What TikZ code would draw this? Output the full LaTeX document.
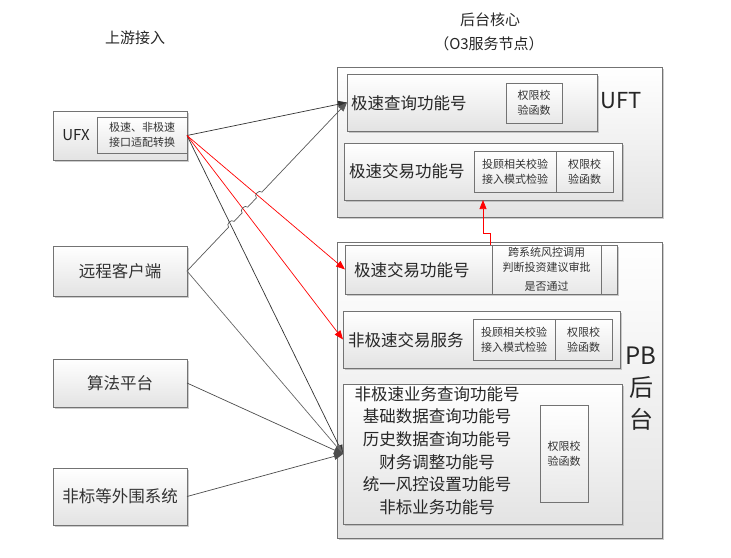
\documentclass[tikz,border=0pt]{standalone}
\usepackage{fontspec}
\setmainfont{Noto Sans CJK SC}
\usetikzlibrary{arrows.meta,shadows,calc}
\begin{document}
\begin{tikzpicture}[x=1pt,y=-1pt,
  box/.style={draw=black!55, line width=0.9pt, top color=white, bottom color=black!11,
    drop shadow={shadow xshift=1.5pt,shadow yshift=-1.5pt,fill=black!40,opacity=0.5},
    inner sep=0pt, outer sep=0pt, anchor=north west, text=black!80},
  ibox/.style={draw=black!55, line width=0.8pt, top color=white, bottom color=black!9,
    drop shadow={shadow xshift=1pt,shadow yshift=-1pt,fill=black!40,opacity=0.4},
    inner sep=0pt, outer sep=0pt, anchor=north west, align=center, text=black!80,
    font=\fontsize{11}{15}\selectfont},
  bigtxt/.style={font=\fontsize{16.5}{20}\selectfont},
  lbl/.style={inner sep=0pt, text=black!85},
  conn/.style={draw=black!80, line width=0.7pt, -{Triangle[length=9pt,width=7pt]}},
  redc/.style={draw=red, line width=0.7pt, -{Triangle[length=9pt,width=7pt]}, red},
]
\useasboundingbox (0,0) rectangle (731,557);

% headers
\node[lbl, font=\fontsize{15}{18}\selectfont] (h1) at (135,38) {上游接入};
\node[lbl, font=\fontsize{15}{18}\selectfont] (h2) at (490,20) {后台核心};
\node[lbl, font=\fontsize{15}{18}\selectfont] (h3) at (489,44) {（O3服务节点）};

% left column
\node[box, minimum width=134pt, minimum height=49pt] (ufx) at (53,111) {};
\node[lbl, font=\fontsize{15}{18}\selectfont] (ufxt) at (76,135) {UFX};
\node[ibox, minimum width=90pt, minimum height=36pt] (ufxa) at (97,117) {极速、非极速\\接口适配转换};
\node[box, minimum width=134pt, minimum height=50pt, bigtxt] (rc) at (53,246) {远程客户端};
\node[box, minimum width=134pt, minimum height=48pt, bigtxt] (alg) at (53,359) {算法平台};
\node[box, minimum width=134pt, minimum height=57pt, bigtxt] (nb) at (53,468) {非标等外围系统};

% UFT
\node[box, minimum width=325pt, minimum height=150pt] (uft) at (337,67) {};
\node[box, minimum width=250pt, minimum height=57pt] (q) at (347,74) {};
\node[lbl, bigtxt, anchor=west] (qt) at (351,103) {极速查询功能号};
\node[ibox, minimum width=56pt, minimum height=40pt] (qa) at (506,83) {权限校\\验函数};
\node[lbl, font=\fontsize{22}{26}\selectfont] (uftt) at (621,101) {UFT};
\node[box, minimum width=278pt, minimum height=57pt] (t1) at (344,143) {};
\node[lbl, bigtxt, anchor=west] (t1t) at (349,171) {极速交易功能号};
\node[ibox, minimum width=82pt, minimum height=41pt] (t1a) at (474,151) {投顾相关校验\\接入模式检验};
\node[ibox, minimum width=57pt, minimum height=41pt] (t1b) at (556,151) {权限校\\验函数};

% PB
\node[box, minimum width=325pt, minimum height=296pt] (pb) at (337,242) {};
\node[box, minimum width=272pt, minimum height=49pt] (p1) at (345,245) {};
\node[lbl, bigtxt, anchor=west] (p1t) at (354,270) {极速交易功能号};
\node[ibox, minimum width=109pt, minimum height=49pt] (p1a) at (492,245) {跨系统风控调用\\判断投资建议审批\\[4pt]是否通过};
\node[box, minimum width=277pt, minimum height=57pt] (p2) at (343,311) {};
\node[lbl, bigtxt, anchor=west] (p2t) at (348,340) {非极速交易服务};
\node[ibox, minimum width=82pt, minimum height=41pt] (p2a) at (473,319) {投顾相关校验\\接入模式检验};
\node[ibox, minimum width=57pt, minimum height=41pt] (p2b) at (555,319) {权限校\\验函数};
\node[lbl, font=\fontsize{24}{28}\selectfont] (pbt1) at (641,356) {PB};
\node[lbl, font=\fontsize{24}{28}\selectfont] (pbt2) at (641,387) {后};
\node[lbl, font=\fontsize{24}{28}\selectfont] (pbt3) at (641,419) {台};
\node[box, minimum width=279pt, minimum height=140pt] (bg) at (343,384) {};
\node[lbl, align=center, font=\fontsize{16.5}{22.6}\selectfont] (bgt) at (437,450.5)
  {非极速业务查询功能号\\基础数据查询功能号\\历史数据查询功能号\\财务调整功能号\\统一风控设置功能号\\非标业务功能号};
\node[ibox, minimum width=48pt, minimum height=97pt] (bga) at (540,405) {权限校\\验函数};

% connectors
\draw[conn] (ufx.east) -- (q.west);
\draw[conn] (ufx.east) -- (bg.west);
\draw[redc] (ufx.east) -- (p1.west);
\draw[redc] (ufx.east) -- (p2.west);
\draw[conn, draw=black!65] (rc.east) -- ($(rc.east)!0.2599!(q.west)$)
  to[bend left=90, looseness=1.3] ($(rc.east)!0.2945!(q.west)$)
  -- ($(rc.east)!0.3446!(q.west)$)
  to[bend left=90, looseness=1.3] ($(rc.east)!0.3792!(q.west)$)
  -- ($(rc.east)!0.4338!(q.west)$)
  to[bend left=90, looseness=1.3] ($(rc.east)!0.4684!(q.west)$)
  -- (q.west);
\draw[conn, draw=black!60] (rc.east) -- (bg.west);
\draw[conn, draw=black!70] (alg.east) -- (bg.west);
\draw[conn, draw=black!70] (nb.east) -- (bg.west);
\coordinate (rs) at (490,0);
\coordinate (rx) at (483,0);
\draw[redc] (p1.north -| rs) -- ++(0,-12) -| (t1.south -| rx);
\end{tikzpicture}
\end{document}
